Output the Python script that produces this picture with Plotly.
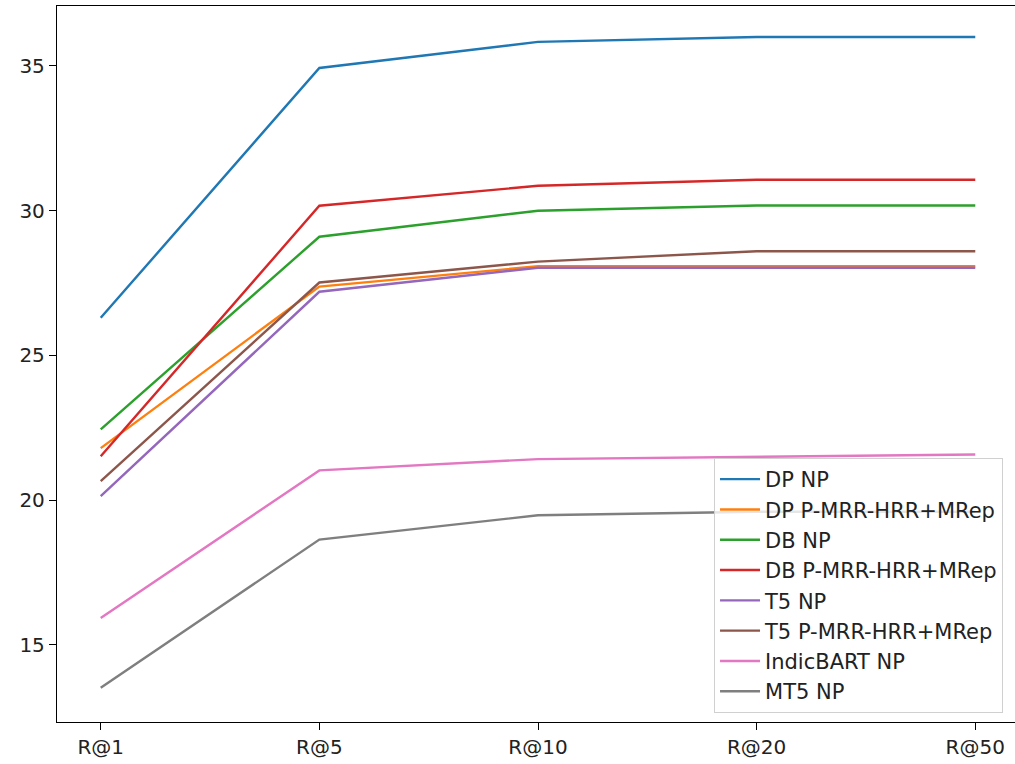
import plotly.graph_objects as go

categories = ["R@1", "R@5", "R@10", "R@20", "R@50"]
series_names = ["DP NP", "DP P-MRR-HRR+MRep", "DB NP", "DB P-MRR-HRR+MRep",
                "T5 NP", "T5 P-MRR-HRR+MRep", "IndicBART NP", "MT5 NP"]
dp_np = [26.3, 34.93, 35.83, 36.0, 36.0]
dp_pmrr = [21.8, 27.38, 28.08, 28.08, 28.08]
db_np = [22.45, 29.1, 30.0, 30.18, 30.18]
db_pmrr = [21.52, 30.17, 30.86, 31.07, 31.07]
t5_np = [20.14, 27.2, 28.03, 28.03, 28.03]
t5_pmrr = [20.66, 27.52, 28.24, 28.6, 28.6]
indicbart_np = [15.93, 21.03, 21.42, 21.5, 21.58]
mt5_np = [13.52, 18.64, 19.48, 19.6, 19.6]
colors = ["#1f77b4", "#ff7f0e", "#2ca02c", "#d62728",
          "#9467bd", "#8c564b", "#e377c2", "#7f7f7f"]

all_series = [dp_np, dp_pmrr, db_np, db_pmrr, t5_np, t5_pmrr, indicbart_np, mt5_np]

fig = go.Figure()
for name, vals, c in zip(series_names, all_series, colors):
    fig.add_trace(go.Scatter(x=categories, y=vals, mode="lines", name=name,
                             line=dict(color=c, width=2.4)))

fig.update_layout(
    width=1024, height=764,
    margin=dict(l=57, r=5, t=6, b=42),
    plot_bgcolor="white", paper_bgcolor="white",
    font=dict(family="DejaVu Sans", size=20, color="#222222"),
    showlegend=True,
    legend=dict(x=0.9834, y=0.0126, xanchor="right", yanchor="bottom",
                bordercolor="#d0d0d0", borderwidth=1, bgcolor="rgba(255,255,255,0.8)",
                font=dict(size=21), tracegroupgap=0, itemwidth=40),
)
fig.update_xaxes(range=[-0.2, 4.2], showgrid=False, showline=True, mirror=True,
                 linecolor="black", linewidth=1.3, ticks="outside", ticklen=7,
                 tickcolor="black", tickwidth=1.3, zeroline=False)
fig.update_yaxes(range=[12.34, 37.07], tickvals=[15, 20, 25, 30, 35], showgrid=False,
                 showline=True, mirror=True, linecolor="black", linewidth=1.3,
                 ticks="outside", ticklen=7, tickcolor="black", tickwidth=1.3,
                 zeroline=False)

fig.write_html("out.html", config={"displayModeBar": False},
               post_script="document.body.style.margin='0';document.body.style.overflow='hidden';document.documentElement.style.overflow='hidden';")
